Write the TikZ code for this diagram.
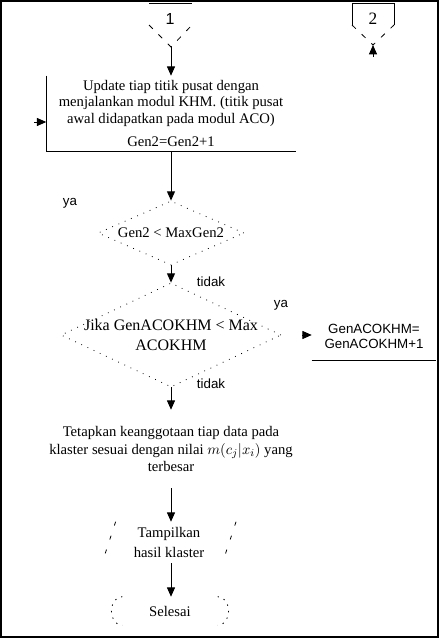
\documentclass[tikz,border=0pt]{standalone}
\usepackage{fontspec}
\setmainfont{Liberation Serif}
\setsansfont{Liberation Sans}
\usetikzlibrary{arrows.meta, shapes.geometric}
\tikzset{
	arr/.style={-{Triangle[width=6pt,length=7pt]}, line width=0.75pt},
	edge/.style={line width=0.75pt},
	offdash/.style={line width=0.6pt, dash pattern=on 4pt off 6pt},
	decision/.style={draw, diamond, inner sep=0pt, line width=0.6pt, dash pattern=on 0.6pt off 4.5pt},
	txt/.style={align=center, inner sep=0pt, font=\fontsize{11}{12.4}\selectfont},
	lbl/.style={inner sep=0pt, font=\sffamily\fontsize{10}{12}\selectfont},
	% display and terminal shapes, only their sides are drawn
	iobox/.style={trapezium, trapezium left angle=66, trapezium right angle=114, trapezium stretches body=true, inner sep=0pt},
	sidedash/.style={line width=0.6pt, dash pattern=on 3pt off 8pt},
	enddot/.style={line width=0.6pt, dash pattern=on 1pt off 4pt},
}
\begin{document}
\begin{tikzpicture}[x=0.75pt, y=-0.75pt]
	\useasboundingbox (0,0) rectangle (440,639);
	\draw[line width=1.5pt] (1,0.5) rectangle (438,637);
	
	% off-page connectors
	\node (off1) [font=\sffamily\fontsize{12}{14}\selectfont] at (170,19) {1};
	\draw[edge] (149,3) -- (192,3);
	\draw[offdash] (149,25) -- (171,47) coordinate (off1tip) -- (192,25);
	
	\node (off2) [font=\fontsize{13}{14}\selectfont] at (373,19) {2};
	\draw[edge] (352,25) -- (352,3) -- (394,3) -- (394,25);
	\draw[offdash] (352,25) -- (373,45) coordinate (off2tip) -- (394,25);
	
	% main flow
	\node (upd) [txt, minimum width=186.75pt, minimum height=56.25pt] at (171,113.5)
		{Update tiap titik pusat dengan\\ menjalankan modul KHM. (titik pusat\\ awal didapatkan pada modul ACO)\\[5.5pt] Gen2=Gen2+1};
	\draw[edge] (upd.north west) -- (upd.south west) -- (upd.south east);
	
	\node (cek1) [decision, minimum width=109.5pt, minimum height=48pt] at (171,233) {};
	\node (cek1txt) [txt] at (cek1) {Gen2 < MaxGen2};
	
	\node (cek2) [decision, minimum width=165pt, minimum height=78pt] at (171,335) {};
	\node (cek2txt) [txt, font=\fontsize{12}{15}\selectfont] at (cek2) {Jika GenACOKHM < Max\\ ACOKHM};
	
	\node (gen) [align=center, inner sep=0pt, minimum width=93pt, minimum height=35pt, font=\sffamily\fontsize{10}{11}\selectfont] at (374,336.5) {GenACOKHM=\\GenACOKHM+1};
	\draw[edge] (gen.south west) -- (gen.south east);
	
	\node (tetap) [txt, font=\fontsize{11}{13}\selectfont, minimum height=58.5pt] at (171,449)
		{Tetapkan keanggotaan tiap data pada\\ klaster sesuai dengan nilai $m(c_j|x_i)$ yang\\ terbesar};
	
	\node (tampil) [iobox, txt, font=\fontsize{11}{15}\selectfont, minimum width=100pt, minimum height=30.75pt] at (169,542.5) {Tampilkan\\ hasil klaster};
	\draw[sidedash] (tampil.top left corner) -- (tampil.bottom left corner);
	\draw[sidedash] (tampil.top right corner) -- (tampil.bottom right corner);
	
	\node (selesai) [txt, minimum width=87pt, minimum height=21pt] at (170,611) {Selesai};
	\draw[enddot] ([xshift=8pt]selesai.north west) .. controls ([xshift=-3pt]selesai.north west) and ([xshift=-3pt]selesai.south west) .. ([xshift=8pt]selesai.south west);
	\draw[enddot] ([xshift=-8pt]selesai.north east) .. controls ([xshift=3pt]selesai.north east) and ([xshift=3pt]selesai.south east) .. ([xshift=-8pt]selesai.south east);
	
	% labels
	\node (ya1) [lbl] at (70,203) {ya};
	\node (tidak1) [lbl] at (211,282) {tidak};
	\node (ya2) [lbl] at (281,305) {ya};
	\node (tidak2) [lbl] at (211,384) {tidak};
	
	% free ends
	\coordinate (yain) at (34,122);
	\coordinate (ya2in) at (302,335);
	\coordinate (off2in) at (373,57);
	
	\begin{scope}[arr]
		\draw (off1tip) -- (off1tip |- upd.north);
		\draw (upd.south) -- (cek1.north);
		\draw (cek1.south) -- (cek2.north);
		\draw (cek2.south) -- (tetap.north);
		\draw (tetap.south) -- (tetap.south |- tampil.north);
		\draw (tetap.south |- tampil.south) -- (tetap.south |- selesai.north);
		
		\draw (yain) -- (yain -| upd.west);
		\draw (ya2in) -- (ya2in -| gen.west);
		\draw (off2in) -- (off2tip);
	\end{scope}
\end{tikzpicture}
\end{document}
